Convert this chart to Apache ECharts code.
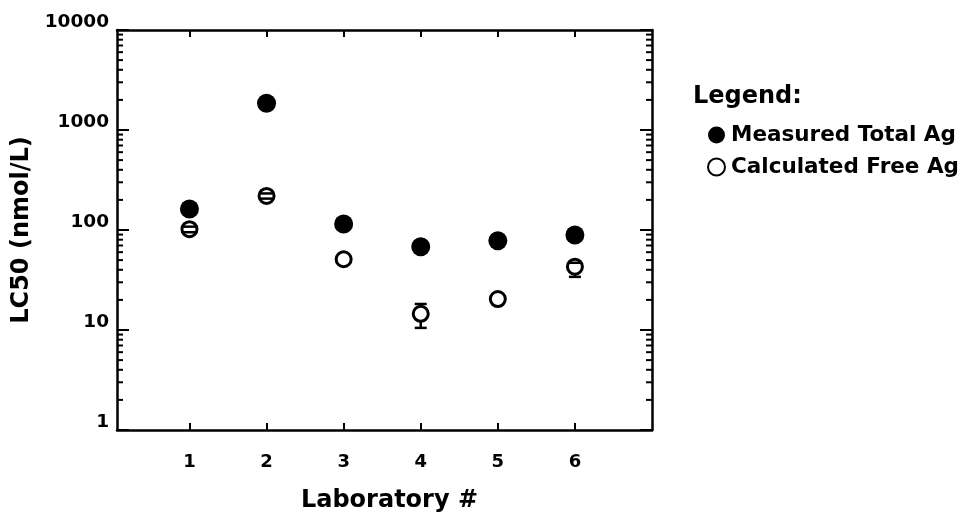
<!DOCTYPE html>
<html>
<head>
<meta charset="utf-8">
<script src="https://cdn.jsdelivr.net/npm/echarts@6/dist/echarts.min.js"></script>
<style>html,body{margin:0;padding:0;background:#fff;}#c{width:970px;height:518px;}</style>
</head>
<body>
<div id="c"></div>
<script>
// ---- data ----
const labs = [1, 2, 3, 4, 5, 6];
const measuredTotal = [162, 1850, 115, 68, 78, 89];
const calculatedFree = [102, 219, 51, 14.5, 20.4, 43];
const freeErrLow = [95, 206, 51, 10.5, 20.4, 34];
const freeErrHigh = [108, 232, 51, 18.2, 20.4, 47];
const yMajorTicks = [1, 10, 100, 1000, 10000];
const minorMultipliers = [2, 3, 4, 5, 6, 7, 8, 9];
const decades = [1, 10, 100, 1000];

const minorTicks = [];
decades.forEach(d => minorMultipliers.forEach(m => minorTicks.push([m * d])));

const FONT = 'DejaVu Sans';
const chart = echarts.init(document.getElementById('c'));

function errRender(params, api) {
  const x = api.value(0), lo = api.value(1), hi = api.value(2);
  const c = api.coord([x, api.value(3)]);
  const pLo = api.coord([x, lo]);
  const pHi = api.coord([x, hi]);
  const r = 8, w = 6;
  const st = {stroke: '#000', lineWidth: 2.5};
  const children = [];
  if (hi === lo) return {type: 'group', children: []};
  if (pHi[1] < c[1] - r) children.push({type: 'line', shape: {x1: c[0], y1: pHi[1], x2: c[0], y2: c[1] - r}, style: st});
  if (pLo[1] > c[1] + r) children.push({type: 'line', shape: {x1: c[0], y1: c[1] + r, x2: c[0], y2: pLo[1]}, style: st});
  children.push({type: 'line', shape: {x1: c[0] - w, y1: pHi[1], x2: c[0] + w, y2: pHi[1]}, style: st});
  children.push({type: 'line', shape: {x1: c[0] - w, y1: pLo[1], x2: c[0] + w, y2: pLo[1]}, style: st});
  return {type: 'group', children};
}

function minorRender(params, api) {
  const cs = params.coordSys;
  const y = api.coord([1, api.value(0)])[1];
  const st = {stroke: '#000', lineWidth: 2};
  return {type: 'group', children: [
    {type: 'line', shape: {x1: cs.x, y1: y, x2: cs.x + 6, y2: y}, style: st},
    {type: 'line', shape: {x1: cs.x + cs.width - 6, y1: y, x2: cs.x + cs.width, y2: y}, style: st}
  ]};
}

const axisLineStyle = {color: '#000', width: 2.5};

chart.setOption({
  backgroundColor: '#fff',
  animation: false,
  title: {
    text: 'Legend:', left: 688, top: 80,
    textStyle: {fontFamily: FONT, fontWeight: 'bold', fontSize: 24, color: '#000'}
  },
  legend: {
    data: ['Measured Total Ag', 'Calculated Free Ag'],
    orient: 'vertical', left: 702, top: 119,
    itemWidth: 17, itemHeight: 17, itemGap: 10,
    textStyle: {fontFamily: FONT, fontWeight: 'bold', fontSize: 21.5, color: '#000', lineHeight: 20, padding: [0, 0, 0, 1]}
  },
  grid: {left: 117, right: 318, top: 30, bottom: 88},
  xAxis: [{
    type: 'value', min: 0.06, max: 7, position: 'bottom',
    name: 'Laboratory #', nameLocation: 'middle', nameGap: 59,
    nameTextStyle: {fontFamily: FONT, fontWeight: 'bold', fontSize: 24, color: '#000', padding: [0, 0, 0, 10]},
    axisLine: {onZero: false, lineStyle: axisLineStyle},
    axisTick: {inside: true, length: 7, customValues: labs, lineStyle: {color: '#000', width: 2}},
    axisLabel: {customValues: labs, margin: 23, fontFamily: FONT, fontWeight: 'bold', fontSize: 18, color: '#000'},
    splitLine: {show: false}
  }, {
    type: 'value', min: 0.06, max: 7, position: 'top',
    axisLine: {onZero: false, lineStyle: axisLineStyle},
    axisTick: {inside: true, length: 7, customValues: labs, lineStyle: {color: '#000', width: 2}},
    axisLabel: {show: false},
    splitLine: {show: false}
  }],
  yAxis: [{
    type: 'log', logBase: 10, min: 1, max: 10000, position: 'left',
    name: 'LC50 (nmol/L)', nameLocation: 'middle', nameGap: 72,
    nameTextStyle: {fontFamily: FONT, fontWeight: 'bold', fontSize: 24, color: '#000'},
    axisLine: {onZero: false, lineStyle: axisLineStyle},
    axisTick: {inside: true, length: 12, lineStyle: {color: '#000', width: 2}},
    axisLabel: {margin: 8, fontFamily: FONT, fontWeight: 'bold', fontSize: 18.5, color: '#000',
      verticalAlign: 'bottom', lineHeight: 16,
      formatter: v => String(Math.round(v))},
    splitLine: {show: false}
  }, {
    type: 'log', logBase: 10, min: 1, max: 10000, position: 'right',
    axisLine: {onZero: false, lineStyle: axisLineStyle},
    axisTick: {inside: true, length: 12, lineStyle: {color: '#000', width: 2}},
    axisLabel: {show: false},
    splitLine: {show: false}
  }],
  series: [{
    name: 'Measured Total Ag', type: 'scatter', symbol: 'circle', symbolSize: 19,
    itemStyle: {color: '#000', opacity: 1},
    data: labs.map((l, i) => [l, measuredTotal[i]]), z: 3
  }, {
    name: 'Calculated Free Ag', type: 'scatter', symbol: 'circle', symbolSize: 15,
    itemStyle: {color: '#fff', borderColor: '#000', borderWidth: 3, opacity: 1},
    data: labs.map((l, i) => [l, calculatedFree[i]]), z: 3
  }, {
    name: 'err', type: 'custom', renderItem: errRender, silent: true, z: 5,
    encode: {x: 0, y: [1, 2]},
    data: labs.map((l, i) => [l, freeErrLow[i], freeErrHigh[i], calculatedFree[i]])
  }, {
    name: 'minor', type: 'custom', renderItem: minorRender, silent: true, z: 5,
    data: minorTicks
  }]
});
</script>
</body>
</html>
